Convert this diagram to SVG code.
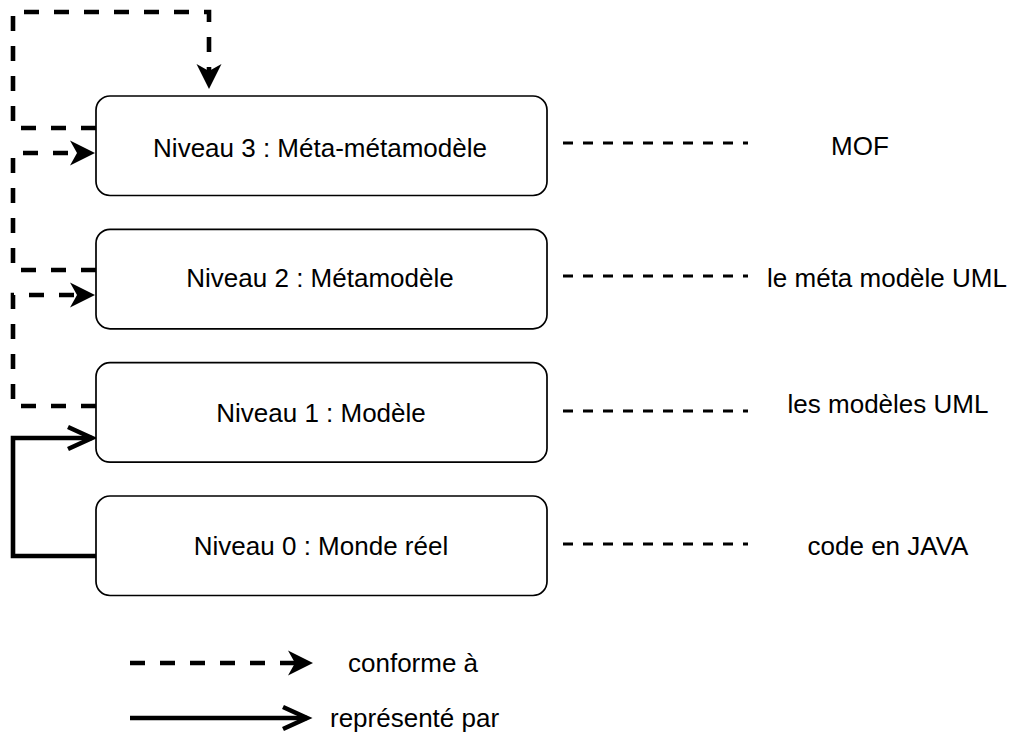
<svg xmlns="http://www.w3.org/2000/svg" width="1014" height="742" viewBox="0 0 1014 742">
<style>
.box{fill:#fff;stroke:#000;stroke-width:1.7}
.lbl{font-family:"Liberation Sans",Arial,Helvetica,sans-serif;font-size:26px;fill:#000}
.mid{text-anchor:middle}
.conf{fill:none;stroke:#000;stroke-width:4.6;stroke-dasharray:15 15}
.rep{fill:none;stroke:#000;stroke-width:4.6}
.link{fill:none;stroke:#000;stroke-width:3.2;stroke-dasharray:10 10}
</style>
<defs>
<marker id="filled" markerUnits="userSpaceOnUse" viewBox="0 0 25 25" markerWidth="25" markerHeight="25" refX="7" refY="12.5" orient="auto" overflow="visible">
<path d="M0,0 L25,12.5 L0,25 L7,12.5 Z" fill="#000"/>
</marker>
<marker id="open" markerUnits="userSpaceOnUse" viewBox="0 0 26 24" markerWidth="26" markerHeight="24" refX="24" refY="12" orient="auto" overflow="visible">
<path d="M0,1 L24,12 L0,23" fill="none" stroke="#000" stroke-width="4.6"/>
</marker>
</defs>
<g id="connectors">
<path class="conf" d="M96,128 H13 V12 H209 V71" marker-end="url(#filled)"/>
<path class="conf" d="M96,270 H13 V153 H77" marker-end="url(#filled)"/>
<path class="conf" d="M96,406 H13 V295 H77" marker-end="url(#filled)"/>
<path class="rep" d="M96,556 H13 V438 H92" marker-end="url(#open)"/>
<path class="link" d="M563,143 H748"/>
<path class="link" d="M563,276 H748"/>
<path class="link" d="M563,411 H748"/>
<path class="link" d="M563,544 H748"/>
</g>
<g id="n3"><rect class="box" x="96" y="96" width="451" height="99.5" rx="14"/><text class="lbl mid" x="320" y="156.5">Niveau 3 : Méta-métamodèle</text></g>
<g id="n2"><rect class="box" x="96" y="229.3" width="451" height="99.5" rx="14"/><text class="lbl mid" x="320" y="287">Niveau 2 : Métamodèle</text></g>
<g id="n1"><rect class="box" x="96" y="362.7" width="451" height="99.5" rx="14"/><text class="lbl mid" x="321" y="421.7">Niveau 1 : Modèle</text></g>
<g id="n0"><rect class="box" x="96" y="496" width="451" height="99.5" rx="14"/><text class="lbl mid" x="321" y="555">Niveau 0 : Monde réel</text></g>
<g id="t3"><text class="lbl mid" x="860" y="155">MOF</text></g>
<g id="t2"><text class="lbl mid" x="887" y="287">le méta modèle UML</text></g>
<g id="t1"><text class="lbl mid" x="888" y="413">les modèles UML</text></g>
<g id="t0"><text class="lbl mid" x="888" y="555">code en JAVA</text></g>
<g id="legend">
<path class="conf" d="M130,663 H295" marker-end="url(#filled)"/>
<text class="lbl" x="348" y="672">conforme à</text>
<path class="rep" d="M130,718 H307" marker-end="url(#open)"/>
<text class="lbl" x="330" y="727">représenté par</text>
</g>
</svg>
